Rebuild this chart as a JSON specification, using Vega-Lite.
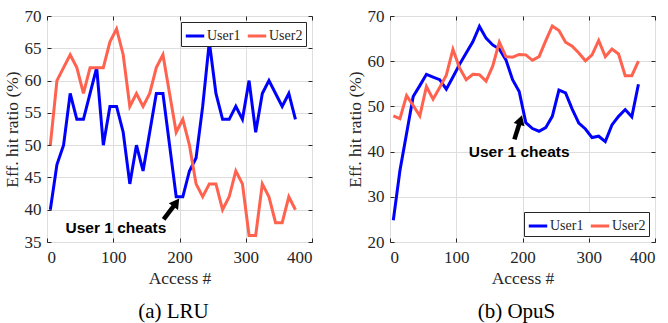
{
  "$schema": "https://vega.github.io/schema/vega-lite/v6.json",
  "padding": {"left": 2, "top": 6, "right": 4, "bottom": 2},
  "background": "white",
  "spacing": 78,
  "bounds": "flush",
  "config": {
    "view": {"stroke": "#262626", "strokeWidth": 1},
    "axis": {
      "domain": false,
      "grid": true,
      "gridColor": "#DEDEDE",
      "gridWidth": 1,
      "tickColor": "#262626",
      "tickSize": -4,
      "labelFont": "Liberation Serif",
      "labelFontSize": 17,
      "labelColor": "#262626",
      "titleFont": "Liberation Serif",
      "titleFontSize": 17.5,
      "titleFontWeight": "normal",
      "titleColor": "#262626"
    },
    "axisY": {"labelPadding": 10, "titlePadding": 3},
    "axisX": {"labelPadding": 11, "titlePadding": 4},
    "legend": {"strokeColor": "#262626", "strokeWidth": 1, "fillColor": "white", "padding": 3, "cornerRadius": 0},
    "title": {"font": "Liberation Serif", "fontSize": 21, "fontWeight": "normal", "color": "black"}
  },
  "datasets": {
    "lru": [
      {"access": 5, "ratio": 40, "user": "User1"}, {"access": 15, "ratio": 47, "user": "User1"}, {"access": 25, "ratio": 50, "user": "User1"}, {"access": 35, "ratio": 58, "user": "User1"}, {"access": 45, "ratio": 54, "user": "User1"}, {"access": 55, "ratio": 54, "user": "User1"}, {"access": 65, "ratio": 58, "user": "User1"}, {"access": 75, "ratio": 62, "user": "User1"}, {"access": 85, "ratio": 50, "user": "User1"}, {"access": 95, "ratio": 56, "user": "User1"}, {"access": 105, "ratio": 56, "user": "User1"}, {"access": 115, "ratio": 52, "user": "User1"}, {"access": 125, "ratio": 44, "user": "User1"}, {"access": 135, "ratio": 50, "user": "User1"}, {"access": 145, "ratio": 46, "user": "User1"}, {"access": 155, "ratio": 52, "user": "User1"}, {"access": 165, "ratio": 58, "user": "User1"}, {"access": 175, "ratio": 58, "user": "User1"}, {"access": 185, "ratio": 50, "user": "User1"}, {"access": 195, "ratio": 42, "user": "User1"}, {"access": 205, "ratio": 42, "user": "User1"}, {"access": 215, "ratio": 46, "user": "User1"}, {"access": 225, "ratio": 48, "user": "User1"}, {"access": 235, "ratio": 56, "user": "User1"}, {"access": 245, "ratio": 66, "user": "User1"}, {"access": 255, "ratio": 58, "user": "User1"}, {"access": 265, "ratio": 54, "user": "User1"}, {"access": 275, "ratio": 54, "user": "User1"}, {"access": 285, "ratio": 56, "user": "User1"}, {"access": 295, "ratio": 54, "user": "User1"}, {"access": 305, "ratio": 60, "user": "User1"}, {"access": 315, "ratio": 52, "user": "User1"}, {"access": 325, "ratio": 58, "user": "User1"}, {"access": 335, "ratio": 60, "user": "User1"}, {"access": 345, "ratio": 58, "user": "User1"}, {"access": 355, "ratio": 56, "user": "User1"}, {"access": 365, "ratio": 58, "user": "User1"}, {"access": 375, "ratio": 54, "user": "User1"},
      {"access": 5, "ratio": 50, "user": "User2"}, {"access": 15, "ratio": 60, "user": "User2"}, {"access": 25, "ratio": 62, "user": "User2"}, {"access": 35, "ratio": 64, "user": "User2"}, {"access": 45, "ratio": 62, "user": "User2"}, {"access": 55, "ratio": 58, "user": "User2"}, {"access": 65, "ratio": 62, "user": "User2"}, {"access": 75, "ratio": 62, "user": "User2"}, {"access": 85, "ratio": 62, "user": "User2"}, {"access": 95, "ratio": 66, "user": "User2"}, {"access": 105, "ratio": 68, "user": "User2"}, {"access": 115, "ratio": 64, "user": "User2"}, {"access": 125, "ratio": 56, "user": "User2"}, {"access": 135, "ratio": 58, "user": "User2"}, {"access": 145, "ratio": 56, "user": "User2"}, {"access": 155, "ratio": 58, "user": "User2"}, {"access": 165, "ratio": 62, "user": "User2"}, {"access": 175, "ratio": 64, "user": "User2"}, {"access": 185, "ratio": 58, "user": "User2"}, {"access": 195, "ratio": 52, "user": "User2"}, {"access": 205, "ratio": 54, "user": "User2"}, {"access": 215, "ratio": 50, "user": "User2"}, {"access": 225, "ratio": 44, "user": "User2"}, {"access": 235, "ratio": 42, "user": "User2"}, {"access": 245, "ratio": 44, "user": "User2"}, {"access": 255, "ratio": 44, "user": "User2"}, {"access": 265, "ratio": 40, "user": "User2"}, {"access": 275, "ratio": 42, "user": "User2"}, {"access": 285, "ratio": 46, "user": "User2"}, {"access": 295, "ratio": 44, "user": "User2"}, {"access": 305, "ratio": 36, "user": "User2"}, {"access": 315, "ratio": 36, "user": "User2"}, {"access": 325, "ratio": 44, "user": "User2"}, {"access": 335, "ratio": 42, "user": "User2"}, {"access": 345, "ratio": 38, "user": "User2"}, {"access": 355, "ratio": 38, "user": "User2"}, {"access": 365, "ratio": 42, "user": "User2"}, {"access": 375, "ratio": 40, "user": "User2"}
    ],
    "opus": [
      {"access": 5, "ratio": 24.8, "user": "User1"}, {"access": 15, "ratio": 35.8, "user": "User1"}, {"access": 25, "ratio": 44, "user": "User1"}, {"access": 35, "ratio": 52.2, "user": "User1"}, {"access": 45, "ratio": 54.6, "user": "User1"}, {"access": 55, "ratio": 57.1, "user": "User1"}, {"access": 65, "ratio": 56.5, "user": "User1"}, {"access": 75, "ratio": 55.9, "user": "User1"}, {"access": 85, "ratio": 53.8, "user": "User1"}, {"access": 95, "ratio": 56.5, "user": "User1"}, {"access": 105, "ratio": 59.3, "user": "User1"}, {"access": 115, "ratio": 61.8, "user": "User1"}, {"access": 125, "ratio": 64.3, "user": "User1"}, {"access": 135, "ratio": 67.7, "user": "User1"}, {"access": 145, "ratio": 65.1, "user": "User1"}, {"access": 155, "ratio": 63.6, "user": "User1"}, {"access": 165, "ratio": 62.7, "user": "User1"}, {"access": 175, "ratio": 60.3, "user": "User1"}, {"access": 185, "ratio": 55.9, "user": "User1"}, {"access": 195, "ratio": 53.3, "user": "User1"}, {"access": 205, "ratio": 46.4, "user": "User1"}, {"access": 215, "ratio": 45.1, "user": "User1"}, {"access": 225, "ratio": 44.5, "user": "User1"}, {"access": 235, "ratio": 45.3, "user": "User1"}, {"access": 245, "ratio": 47.8, "user": "User1"}, {"access": 255, "ratio": 53.6, "user": "User1"}, {"access": 265, "ratio": 53.0, "user": "User1"}, {"access": 275, "ratio": 49.4, "user": "User1"}, {"access": 285, "ratio": 46.3, "user": "User1"}, {"access": 295, "ratio": 45.0, "user": "User1"}, {"access": 305, "ratio": 43.1, "user": "User1"}, {"access": 315, "ratio": 43.4, "user": "User1"}, {"access": 325, "ratio": 42.2, "user": "User1"}, {"access": 335, "ratio": 45.9, "user": "User1"}, {"access": 345, "ratio": 47.8, "user": "User1"}, {"access": 355, "ratio": 49.3, "user": "User1"}, {"access": 365, "ratio": 47.7, "user": "User1"}, {"access": 375, "ratio": 54.9, "user": "User1"},
      {"access": 5, "ratio": 47.9, "user": "User2"}, {"access": 15, "ratio": 47.3, "user": "User2"}, {"access": 25, "ratio": 52.4, "user": "User2"}, {"access": 35, "ratio": 50.2, "user": "User2"}, {"access": 45, "ratio": 47.9, "user": "User2"}, {"access": 55, "ratio": 54.4, "user": "User2"}, {"access": 65, "ratio": 51.6, "user": "User2"}, {"access": 75, "ratio": 54.2, "user": "User2"}, {"access": 85, "ratio": 56.9, "user": "User2"}, {"access": 95, "ratio": 62.6, "user": "User2"}, {"access": 105, "ratio": 58.5, "user": "User2"}, {"access": 115, "ratio": 55.9, "user": "User2"}, {"access": 125, "ratio": 57.1, "user": "User2"}, {"access": 135, "ratio": 57.0, "user": "User2"}, {"access": 145, "ratio": 55.6, "user": "User2"}, {"access": 155, "ratio": 58.9, "user": "User2"}, {"access": 165, "ratio": 64.2, "user": "User2"}, {"access": 175, "ratio": 61.0, "user": "User2"}, {"access": 185, "ratio": 60.9, "user": "User2"}, {"access": 195, "ratio": 61.5, "user": "User2"}, {"access": 205, "ratio": 61.4, "user": "User2"}, {"access": 215, "ratio": 60.2, "user": "User2"}, {"access": 225, "ratio": 61.0, "user": "User2"}, {"access": 235, "ratio": 64.5, "user": "User2"}, {"access": 245, "ratio": 67.8, "user": "User2"}, {"access": 255, "ratio": 66.8, "user": "User2"}, {"access": 265, "ratio": 64.2, "user": "User2"}, {"access": 275, "ratio": 63.3, "user": "User2"}, {"access": 285, "ratio": 61.8, "user": "User2"}, {"access": 295, "ratio": 60.1, "user": "User2"}, {"access": 305, "ratio": 61.4, "user": "User2"}, {"access": 315, "ratio": 64.6, "user": "User2"}, {"access": 325, "ratio": 61.0, "user": "User2"}, {"access": 335, "ratio": 62.7, "user": "User2"}, {"access": 345, "ratio": 61.6, "user": "User2"}, {"access": 355, "ratio": 56.8, "user": "User2"}, {"access": 365, "ratio": 56.8, "user": "User2"}, {"access": 375, "ratio": 60.0, "user": "User2"}
    ],
    "lruNote": [{"x": 176, "y": 38.5, "x2": 195.2, "y2": 41.1, "tx": 104, "ty": 37.1, "label": "User 1 cheats"}],
    "opusNote": [{"x": 187.8, "y": 42.7, "x2": 197, "y2": 47, "tx": 195, "ty": 39.9, "label": "User 1 cheats"}]
  },
  "resolve": {"legend": {"color": "independent"}, "scale": {"color": "shared"}},
  "hconcat": [
    {
      "width": 265,
      "height": 226,
      "title": {"text": "(a) LRU", "orient": "bottom", "offset": 14, "dx": -6},
      "resolve": {"axis": {"x": "independent", "y": "independent"}},
      "layer": [
        {
          "data": {"name": "lru"},
          "mark": {"type": "line", "strokeWidth": 3},
          "encoding": {
            "x": {"field": "access", "type": "quantitative", "scale": {"domain": [0, 400], "nice": false}, "axis": {"title": "Access #", "values": [0, 100, 200, 300, 400]}},
            "y": {"field": "ratio", "type": "quantitative", "scale": {"domain": [35, 70], "nice": false, "zero": false}, "axis": {"title": "Eff. hit ratio (%)", "values": [35, 40, 45, 50, 55, 60, 65, 70]}},
            "color": {"field": "user", "type": "nominal", "scale": {"domain": ["User1", "User2"], "range": ["#0000FF", "#FF624F"]},
              "legend": {"title": null, "orient": "top-right", "offset": 6, "direction": "horizontal", "strokeColor": "#262626", "fillColor": "white", "padding": 3, "symbolType": "stroke", "symbolStrokeWidth": 3, "symbolSize": 340, "labelFont": "Liberation Serif", "labelFontSize": 14, "labelColor": "#262626", "labelOffset": 1, "columnPadding": 0, "cornerRadius": 0}}
          }
        },
        {
          "data": {"name": "lruNote"},
          "mark": {"type": "rule", "strokeWidth": 4.5, "color": "black"},
          "encoding": {
            "x": {"field": "x", "type": "quantitative", "scale": {"domain": [0, 400], "nice": false}, "axis": null},
            "y": {"field": "y", "type": "quantitative", "scale": {"domain": [35, 70], "nice": false, "zero": false}, "axis": null},
            "x2": {"field": "x2"},
            "y2": {"field": "y2"}
          }
        },
        {
          "data": {"name": "lruNote"},
          "mark": {"type": "point", "shape": "triangle-up", "filled": true, "color": "black", "opacity": 1, "size": 130, "angle": 36},
          "encoding": {
            "x": {"field": "x2", "type": "quantitative", "scale": {"domain": [0, 400], "nice": false}, "axis": {"orient": "top", "labels": false, "grid": false, "title": null, "values": [0, 100, 200, 300, 400]}},
            "y": {"field": "y2", "type": "quantitative", "scale": {"domain": [35, 70], "nice": false, "zero": false}, "axis": {"orient": "right", "labels": false, "grid": false, "title": null, "values": [35, 40, 45, 50, 55, 60, 65, 70]}}
          }
        },
        {
          "data": {"name": "lruNote"},
          "mark": {"type": "text", "font": "Liberation Sans", "fontWeight": "bold", "fontSize": 15.5, "color": "black", "align": "center", "baseline": "middle"},
          "encoding": {
            "x": {"field": "tx", "type": "quantitative", "scale": {"domain": [0, 400], "nice": false}, "axis": null},
            "y": {"field": "ty", "type": "quantitative", "scale": {"domain": [35, 70], "nice": false, "zero": false}, "axis": null},
            "text": {"field": "label"}
          }
        }
      ]
    },
    {
      "width": 265,
      "height": 226,
      "title": {"text": "(b) OpuS", "orient": "bottom", "offset": 14, "dx": -6},
      "resolve": {"axis": {"x": "independent", "y": "independent"}},
      "layer": [
        {
          "data": {"name": "opus"},
          "mark": {"type": "line", "strokeWidth": 3},
          "encoding": {
            "x": {"field": "access", "type": "quantitative", "scale": {"domain": [0, 400], "nice": false}, "axis": {"title": "Access #", "values": [0, 100, 200, 300, 400]}},
            "y": {"field": "ratio", "type": "quantitative", "scale": {"domain": [20, 70], "nice": false, "zero": false}, "axis": {"title": "Eff. hit ratio (%)", "values": [20, 30, 40, 50, 60, 70]}},
            "color": {"field": "user", "type": "nominal", "scale": {"domain": ["User1", "User2"], "range": ["#0000FF", "#FF624F"]},
              "legend": {"title": null, "orient": "bottom-right", "offset": 6, "direction": "horizontal", "strokeColor": "#262626", "fillColor": "white", "padding": 3, "symbolType": "stroke", "symbolStrokeWidth": 3, "symbolSize": 340, "labelFont": "Liberation Serif", "labelFontSize": 14, "labelColor": "#262626", "labelOffset": 1, "columnPadding": 0, "cornerRadius": 0}}
          }
        },
        {
          "data": {"name": "opusNote"},
          "mark": {"type": "rule", "strokeWidth": 4.5, "color": "black"},
          "encoding": {
            "x": {"field": "x", "type": "quantitative", "scale": {"domain": [0, 400], "nice": false}, "axis": null},
            "y": {"field": "y", "type": "quantitative", "scale": {"domain": [20, 70], "nice": false, "zero": false}, "axis": null},
            "x2": {"field": "x2"},
            "y2": {"field": "y2"}
          }
        },
        {
          "data": {"name": "opusNote"},
          "mark": {"type": "point", "shape": "triangle-up", "filled": true, "color": "black", "opacity": 1, "size": 130, "angle": 17},
          "encoding": {
            "x": {"field": "x2", "type": "quantitative", "scale": {"domain": [0, 400], "nice": false}, "axis": {"orient": "top", "labels": false, "grid": false, "title": null, "values": [0, 100, 200, 300, 400]}},
            "y": {"field": "y2", "type": "quantitative", "scale": {"domain": [20, 70], "nice": false, "zero": false}, "axis": {"orient": "right", "labels": false, "grid": false, "title": null, "values": [20, 30, 40, 50, 60, 70]}}
          }
        },
        {
          "data": {"name": "opusNote"},
          "mark": {"type": "text", "font": "Liberation Sans", "fontWeight": "bold", "fontSize": 15.5, "color": "black", "align": "center", "baseline": "middle"},
          "encoding": {
            "x": {"field": "tx", "type": "quantitative", "scale": {"domain": [0, 400], "nice": false}, "axis": null},
            "y": {"field": "ty", "type": "quantitative", "scale": {"domain": [20, 70], "nice": false, "zero": false}, "axis": null},
            "text": {"field": "label"}
          }
        }
      ]
    }
  ]
}
